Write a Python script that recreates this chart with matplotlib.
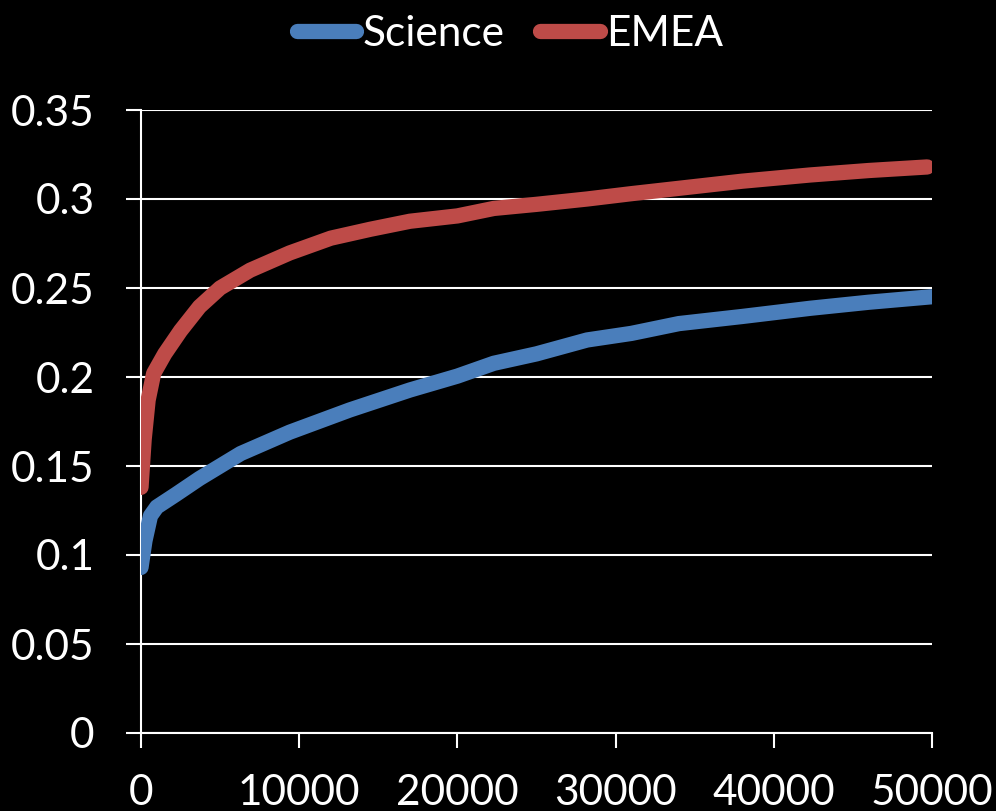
import matplotlib
matplotlib.use("Agg")
import matplotlib.pyplot as plt

# values
science_x = [0, 250, 600, 1000, 2200, 3700, 6300, 9400, 13200, 17000, 20000,
             22300, 25000, 28200, 31000, 34000, 38000, 42300, 46000, 50000]
science_y = [0.093, 0.108, 0.122, 0.127, 0.134, 0.143, 0.157, 0.169, 0.1815, 0.1927, 0.2005,
             0.2077, 0.213, 0.2208, 0.2245, 0.230, 0.234, 0.2386, 0.242, 0.2451]

emea_x = [0, 200, 450, 800, 1500, 2500, 3700, 5000, 6900, 9400, 12000, 14500,
          17000, 20000, 22300, 25000, 28200, 31000, 34000, 38000, 42300, 46000, 49700]
emea_y = [0.138, 0.165, 0.187, 0.202, 0.213, 0.226, 0.2395, 0.25, 0.26, 0.2697, 0.278, 0.283,
          0.2875, 0.2905, 0.2947, 0.297, 0.300, 0.303, 0.306, 0.310, 0.3135, 0.316, 0.318]

x_ticks = [0, 10000, 20000, 30000, 40000, 50000]
y_ticks = [0, 0.05, 0.1, 0.15, 0.2, 0.25, 0.3, 0.35]
y_labels = ["0", "0.05", "0.1", "0.15", "0.2", "0.25", "0.3", "0.35"]

plt.rcParams['font.family'] = ['Lato', 'DejaVu Sans']

W, H = 996, 811
fs = 30.5
fig = plt.figure(figsize=(W / 100, H / 100), dpi=100, facecolor="black")
ax = fig.add_axes([141 / W, 1 - 733 / H, (932 - 141) / W, (733 - 110) / H])
ax.set_facecolor("black")

ax.plot(science_x, science_y, color="#4A7EBB", lw=11, solid_capstyle="round",
        solid_joinstyle="round", label="Science", zorder=3)
ax.plot(emea_x, emea_y, color="#BE4B48", lw=11, solid_capstyle="round",
        solid_joinstyle="round", label="EMEA", zorder=3)

ax.set_xlim(0, 50000)
ax.set_ylim(0, 0.35)
ax.set_xticks(x_ticks)
ax.set_xticklabels([str(t) for t in x_ticks])
ax.set_yticks(y_ticks)
ax.set_yticklabels(y_labels)

ax.grid(axis="y", color="white", lw=1.5)
ax.set_axisbelow(True)
for s in ["top", "right"]:
    ax.spines[s].set_visible(False)
for s in ["left", "bottom"]:
    ax.spines[s].set_color("white")
    ax.spines[s].set_linewidth(1.5)

ax.tick_params(axis="both", colors="white", labelsize=fs, length=10.5, width=1.5)
ax.tick_params(axis="x", pad=19)
ax.tick_params(axis="y", pad=23)

fig.legend(loc="center", bbox_to_anchor=(510 / W, 1 - 34 / H), ncol=2, frameon=False,
           fontsize=fs, handlelength=1.4, handletextpad=0.15, columnspacing=0.85,
           labelcolor="white", borderaxespad=0, borderpad=0)

fig.savefig("out.png", dpi=100, facecolor="black")
